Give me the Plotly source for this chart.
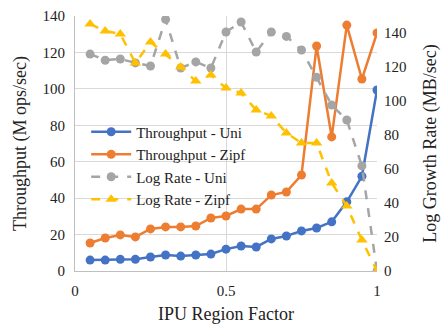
import plotly.graph_objects as go

x = [0.05, 0.10, 0.15, 0.20, 0.25, 0.30, 0.35, 0.40, 0.45, 0.50,
     0.55, 0.60, 0.65, 0.70, 0.75, 0.80, 0.85, 0.90, 0.95, 1.00]
thr_uni = [6.0, 6.0, 6.4, 6.4, 7.7, 8.8, 8.2, 8.8, 9.3, 12.0,
           13.7, 13.2, 17.6, 19.2, 22.0, 23.6, 27.0, 38.0, 52.0, 99.4]
thr_zipf = [15.4, 18.1, 19.8, 18.7, 23.1, 24.2, 24.2, 24.7, 29.1, 30.2,
            34.0, 34.0, 41.7, 43.4, 52.7, 123.5, 73.6, 135.0, 105.4, 130.7]
log_uni = [127.6, 124.0, 124.7, 122.4, 120.6, 148.0, 119.4, 123.0, 119.4, 140.6,
           146.5, 128.8, 140.6, 138.0, 130.0, 114.0, 97.6, 88.8, 61.8, 0.0]
log_zipf = [145.3, 141.2, 139.4, 122.3, 134.7, 127.6, 120.0, 111.7, 115.3, 107.6,
            104.7, 94.7, 91.2, 81.2, 75.3, 75.3, 51.8, 38.2, 18.2, 0.0]

font = "Liberation Serif, Times New Roman, serif"
fig = go.Figure()
fig.add_trace(go.Scatter(x=x, y=thr_uni, name="Throughput - Uni", mode="lines+markers",
                         line=dict(color="#4472C4", width=2.5),
                         marker=dict(symbol="circle", size=9, color="#4472C4")))
fig.add_trace(go.Scatter(x=x, y=thr_zipf, name="Throughput - Zipf", mode="lines+markers",
                         line=dict(color="#ED7D31", width=2.5),
                         marker=dict(symbol="circle", size=9, color="#ED7D31")))
fig.add_trace(go.Scatter(x=x, y=log_uni, name="Log Rate - Uni", mode="lines+markers", yaxis="y2",
                         line=dict(color="#A5A5A5", width=2.5, dash="dash"),
                         marker=dict(symbol="circle", size=9, color="#A5A5A5")))
fig.add_trace(go.Scatter(x=x, y=log_zipf, name="Log Rate - Zipf", mode="lines+markers", yaxis="y2",
                         line=dict(color="#FFC000", width=2.5, dash="dash"),
                         marker=dict(symbol="triangle-up", size=10, color="#FFC000")))

fig.update_layout(
    width=443, height=324,
    margin=dict(l=75, r=66, t=16, b=53),
    paper_bgcolor="white", plot_bgcolor="white",
    font=dict(family=font, size=15, color="#222"),
    showlegend=True,
    legend=dict(x=0.037, y=0.61, xanchor="left", yanchor="top",
                bgcolor="rgba(0,0,0,0)", font=dict(size=15, family=font),
                itemwidth=40, tracegroupgap=0),
    xaxis=dict(range=[0, 1], tickvals=[0, 0.5, 1], ticktext=["0", "0.5", "1"],
               showgrid=True, gridcolor="#D9D9D9", gridwidth=1,
               showline=True, linecolor="#BFBFBF", zeroline=False,
               ticks="", ticklabelstandoff=6, automargin=False,
               title=dict(text="IPU Region Factor", standoff=15)),
    yaxis=dict(range=[0, 140], tickvals=[0, 20, 40, 60, 80, 100, 120, 140],
               showgrid=True, gridcolor="#D9D9D9", gridwidth=1,
               showline=True, linecolor="#BFBFBF", zeroline=False, ticks="",
               ticklabelstandoff=6, automargin=False,
               title=dict(text="Throughput (M ops/sec)", standoff=11)),
    yaxis2=dict(range=[0, 150], tickvals=[0, 20, 40, 60, 80, 100, 120, 140],
                overlaying="y", side="right", showgrid=False, zeroline=False,
                showline=False, ticks="", ticklabelstandoff=6, automargin=False,
                title=dict(text="Log Growth Rate (MB/sec)", standoff=17)),
)
fig.write_html("out.html")
